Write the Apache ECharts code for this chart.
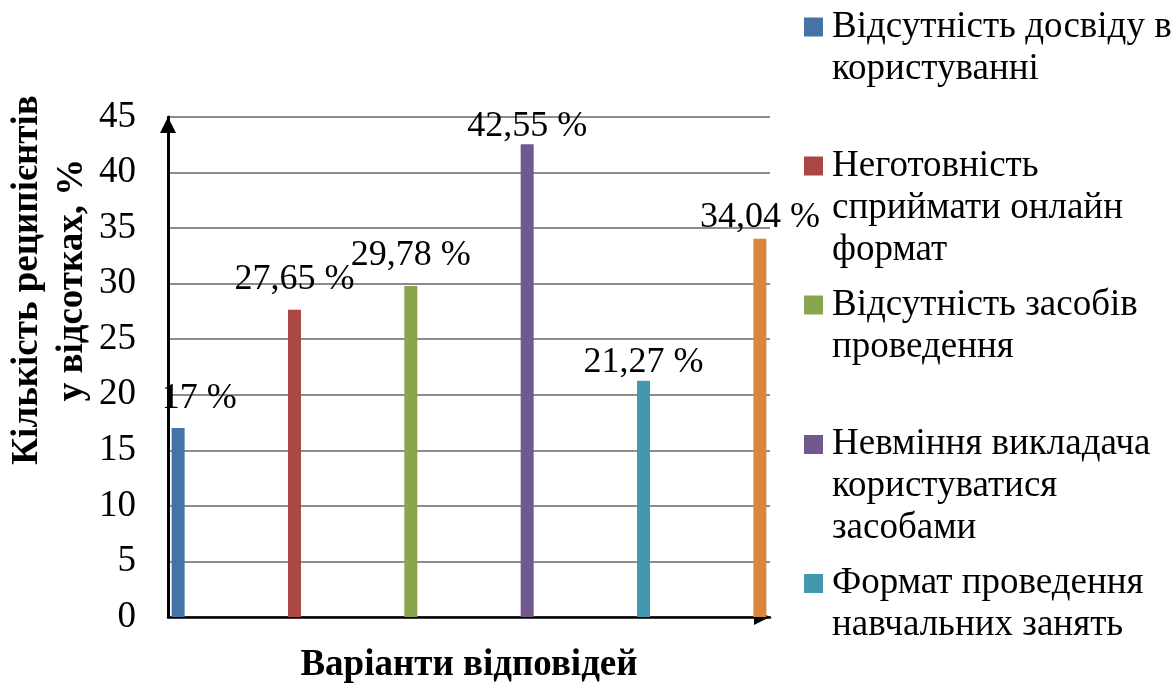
<!DOCTYPE html>
<html>
<head>
<meta charset="utf-8">
<script src="https://cdn.jsdelivr.net/npm/echarts@6/dist/echarts.min.js"></script>
<style>
html,body{margin:0;padding:0;background:#fff;}
#chart{width:1176px;height:687px;}
</style>
</head>
<body>
<div id="chart"></div>
<script>
const categories = [''];
const seriesNames = [
  'Відсутність досвіду в користуванні',
  'Неготовність сприймати онлайн формат',
  'Відсутність засобів проведення',
  'Невміння викладача користуватися засобами',
  'Формат проведення навчальних занять',
  'Інше'
];
const legendLines = [
  ['Відсутність досвіду в', 'користуванні'],
  ['Неготовність', 'сприймати онлайн', 'формат'],
  ['Відсутність засобів', 'проведення'],
  ['Невміння викладача', 'користуватися', 'засобами'],
  ['Формат проведення', 'навчальних занять']
];
const values = [17, 27.65, 29.78, 42.55, 21.27, 34.04];
const colors = ['#4572A7', '#AA4643', '#89A54E', '#71588F', '#4198AF', '#DB843D'];
const yMin = 0, yMax = 45, yStep = 5;
const yTitle = 'Кількість реципієнтів\nу відсотках, %';
const xTitle = 'Варіанти відповідей';

const FONT = '"Liberation Serif", "Times New Roman", serif';
const LH = 42;
const legendCenters = [27, 166, 305, 444.5, 583.5];
const labelOffsets = [[21, -12], [0, -12], [0, -13], [0, 0], [0, 0], [0, -3]];

const legends = legendLines.map((lines, i) => {
  const n = lines.length;
  // leading blank lines keep the marker level with the first text line
  const text = new Array(n - 1).fill(' ').concat(lines).join('\n');
  return {
    show: true,
    data: [seriesNames[i]],
    left: 804,
    top: legendCenters[i] - (2 * n - 1) * LH / 2,
    padding: 0,
    orient: 'vertical',
    itemWidth: 19,
    itemHeight: 19,
    icon: 'rect',
    selectedMode: false,
    formatter: () => text,
    textStyle: {
      fontFamily: FONT, fontSize: 37, lineHeight: LH, color: '#000',
      padding: [0, 0, 0, 4]
    }
  };
});

const series = seriesNames.map((name, i) => ({
  name: name,
  type: 'bar',
  barWidth: 13,
  barGap: '795%',
  data: [values[i]],
  itemStyle: { color: colors[i] },
  label: {
    show: true,
    position: 'top',
    distance: 0,
    fontFamily: FONT,
    fontSize: 36,
    color: '#000',
    offset: labelOffsets[i],
    formatter: p => String(p.value).replace('.', ',') + ' %'
  }
}));

const chart = echarts.init(document.getElementById('chart'));
chart.setOption({
  animation: false,
  backgroundColor: '#fff',
  grid: { left: 168, right: 406, top: 117, bottom: 70, containLabel: false, outerBoundsMode: 'none' },
  legend: legends,
  xAxis: {
    type: 'category',
    data: categories,
    name: xTitle,
    nameLocation: 'middle',
    nameGap: 30,
    nameMoveOverlap: false,
    nameTextStyle: { fontFamily: FONT, fontSize: 37, fontWeight: 'bold', color: '#000' },
    axisLabel: { show: false },
    axisTick: { show: false },
    axisLine: {
      show: true,
      symbol: ['none', 'triangle'],
      symbolSize: [16, 16],
      symbolOffset: [0, -8],
      lineStyle: { color: '#000', width: 2.5 }
    }
  },
  yAxis: {
    type: 'value',
    min: yMin, max: yMax, interval: yStep,
    name: yTitle,
    nameLocation: 'middle',
    nameRotate: 90,
    nameGap: 73,
    nameMoveOverlap: false,
    nameTextStyle: {
      fontFamily: FONT, fontSize: 37, fontWeight: 'bold', color: '#000',
      lineHeight: 45, align: 'center', padding: [0, 0, 0, 174]
    },
    axisLabel: { fontFamily: FONT, fontSize: 37, color: '#000', margin: 32 },
    axisTick: { show: false },
    axisLine: {
      show: true,
      symbol: ['none', 'triangle'],
      symbolSize: [16, 16],
      symbolOffset: [0, -8],
      lineStyle: { color: '#000', width: 3 }
    },
    splitLine: { show: true, lineStyle: { color: '#8c8c8c', width: 2 } }
  },
  series: series
});
</script>
</body>
</html>
